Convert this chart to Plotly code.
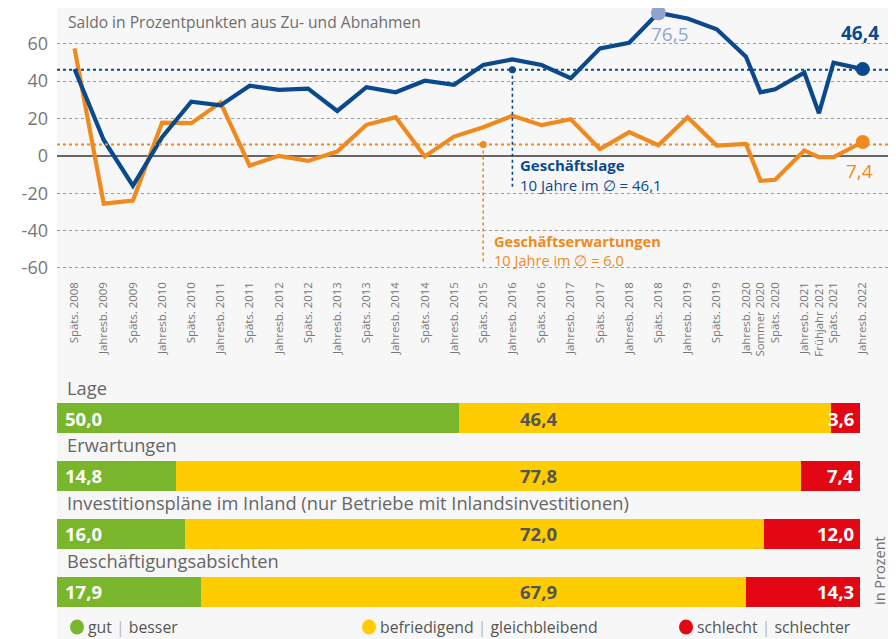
import plotly.graph_objects as go

# Zeitachse (Umfragen)
labels = ["Späts. 2008", "Jahresb. 2009", "Späts. 2009", "Jahresb. 2010", "Späts. 2010",
          "Jahresb. 2011", "Späts. 2011", "Jahresb. 2012", "Späts. 2012", "Jahresb. 2013",
          "Späts. 2013", "Jahresb. 2014", "Späts. 2014", "Jahresb. 2015", "Späts. 2015",
          "Jahresb. 2016", "Späts. 2016", "Jahresb. 2017", "Späts. 2017", "Jahresb. 2018",
          "Späts. 2018", "Jahresb. 2019", "Späts. 2019", "Jahresb. 2020", "Sommer 2020",
          "Späts. 2020", "Jahresb. 2021", "Frühjahr 2021", "Späts. 2021", "Jahresb. 2022"]
survey_pos = [0, 1, 2, 3, 4, 5, 6, 7, 8, 9, 10, 11, 12, 13, 14, 15, 16, 17, 18, 19,
              20, 21, 22, 23, 23.5, 24, 25, 25.5, 26, 27]

lage = [46.5, 8.5, -16.0, 10.0, 29.0, 27.0, 37.5, 35.3, 36.0, 24.0,
        36.7, 34.0, 40.2, 38.0, 48.6, 51.6, 48.6, 41.5, 57.5, 60.5,
        76.5, 73.5, 67.7, 53.0, 34.0, 35.6, 44.5, 22.8, 49.8, 46.4]
erwartungen = [57.5, -25.6, -23.9, 17.8, 17.5, 28.5, -5.2, 0.0, -2.7, 2.3,
               16.6, 20.7, -0.3, 10.3, 15.3, 21.4, 16.4, 19.6, 3.6, 12.7,
               5.7, 20.7, 5.5, 6.4, -13.4, -12.8, 2.8, -0.7, -0.7, 7.4]

avg_lage = 46.1
avg_erw = 6.0

y_ticks = [-60, -40, -20, 0, 20, 40, 60]
y_ticktext = ["-60", "-40", "-20", "0", "20", "40", "60"]

# Balken (in Prozent)
bar_cats = ["Lage", "Erwartungen",
            "Investitionspläne im Inland (nur Betriebe mit Inlandsinvestitionen)",
            "Beschäftigungsabsichten"]
gut = [50.0, 14.8, 16.0, 17.9]
befriedigend = [46.4, 77.8, 72.0, 67.9]
schlecht = [3.6, 7.4, 12.0, 14.3]

legend_items = ["gut <span style='color:#b5b5b5'>|</span> besser",
                "befriedigend <span style='color:#b5b5b5'>|</span> gleichbleibend",
                "schlecht <span style='color:#b5b5b5'>|</span> schlechter"]

BLUE = "#0a4a8c"
ORANGE = "#f08a1e"
LIGHTBLUE = "#8fa5d0"
GREEN = "#79b62b"
YELLOW = "#ffcc00"
RED = "#e30613"
GRAY = "#6e6e6e"
FONT = "Open Sans"

# the page body has an 8px margin, so the figure is drawn 8px smaller
# and every screen position is shifted by 8px
OFF = 8
W, H = 896 - OFF, 639 - OFF


def px(x):
    return (x - OFF) / W


def py(y):
    return min(1, 1 - (y - OFF) / H)


def fmt(v):
    return f"{v:.1f}".replace(".", ",")


fig = go.Figure()

# Linien
fig.add_trace(go.Scatter(x=survey_pos, y=erwartungen, mode="lines",
                         line=dict(color=ORANGE, width=4.2), xaxis="x", yaxis="y"))
fig.add_trace(go.Scatter(x=survey_pos, y=lage, mode="lines",
                         line=dict(color=BLUE, width=4.2), xaxis="x", yaxis="y"))

imax = lage.index(max(lage))
fig.add_trace(go.Scatter(x=[survey_pos[imax]], y=[lage[imax]], mode="markers", cliponaxis=False,
                         marker=dict(color=LIGHTBLUE, size=15), xaxis="x", yaxis="y"))
fig.add_trace(go.Scatter(x=[survey_pos[-1]], y=[lage[-1]], mode="markers", cliponaxis=False,
                         marker=dict(color=BLUE, size=14), xaxis="x", yaxis="y"))
fig.add_trace(go.Scatter(x=[survey_pos[-1]], y=[erwartungen[-1]], mode="markers", cliponaxis=False,
                         marker=dict(color=ORANGE, size=14), xaxis="x", yaxis="y"))
fig.add_trace(go.Scatter(x=[survey_pos[15], survey_pos[14]], y=[avg_lage, avg_erw], mode="markers",
                         marker=dict(color=[BLUE, ORANGE], size=7), xaxis="x", yaxis="y"))

# Balken
for vals, col in [(gut, GREEN), (befriedigend, YELLOW), (schlecht, RED)]:
    fig.add_trace(go.Bar(y=bar_cats, x=vals, orientation="h", marker=dict(color=col, line=dict(width=0)),
                         width=0.52, xaxis="x2", yaxis="y2"))

shapes = [
    dict(type="rect", xref="paper", yref="paper", x0=px(57), x1=px(889), y0=0, y1=1,
         fillcolor="#f7f7f7", line=dict(width=0), layer="below"),
    dict(type="line", xref="x domain", yref="y", x0=0, x1=1, y0=avg_lage, y1=avg_lage,
         line=dict(color=BLUE, width=2, dash="dot")),
    dict(type="line", xref="x domain", yref="y", x0=0, x1=1, y0=avg_erw, y1=avg_erw,
         line=dict(color=ORANGE, width=2, dash="dot")),
    dict(type="line", xref="x", yref="y", x0=survey_pos[15], x1=survey_pos[15], y0=avg_lage, y1=-18,
         line=dict(color=BLUE, width=1.6, dash="dot")),
    dict(type="line", xref="x", yref="y", x0=survey_pos[14], x1=survey_pos[14], y0=avg_erw, y1=-58,
         line=dict(color=ORANGE, width=1.6, dash="dot")),
]

annotations = [
    dict(text="Saldo in Prozentpunkten aus Zu- und Abnahmen", xref="paper", yref="paper",
         x=px(66), y=py(22), xanchor="left", yanchor="middle", showarrow=False,
         font=dict(size=15.6, color=GRAY, family=FONT)),
    dict(text=fmt(lage[imax]), xref="x", yref="y", x=survey_pos[imax], y=lage[imax],
         xanchor="left", yanchor="top", xshift=-9, yshift=-6, showarrow=False,
         font=dict(size=19, color=LIGHTBLUE, family=FONT)),
    dict(text="<b>" + fmt(lage[-1]) + "</b>", xref="x", yref="y", x=survey_pos[-1], y=lage[-1],
         xanchor="center", yanchor="middle", xshift=-3, yshift=36, showarrow=False,
         font=dict(size=19, color=BLUE, family=FONT)),
    dict(text=fmt(erwartungen[-1]), xref="x", yref="y", x=survey_pos[-1], y=erwartungen[-1],
         xanchor="center", yanchor="middle", xshift=-3, yshift=-29, showarrow=False,
         font=dict(size=19, color=ORANGE, family=FONT)),
    dict(text="<b>Geschäftslage</b><br>10 Jahre im ∅ = " + fmt(avg_lage), xref="x", yref="y",
         x=survey_pos[15], y=-10.4, xanchor="left", yanchor="middle", align="left", xshift=6,
         showarrow=False, font=dict(size=15, color=BLUE, family=FONT)),
    dict(text="<b>Geschäftserwartungen</b><br>10 Jahre im ∅ = " + fmt(avg_erw), xref="x", yref="y",
         x=survey_pos[14], y=-50.7, xanchor="left", yanchor="middle", align="left", xshift=9,
         showarrow=False, font=dict(size=14.6, color=ORANGE, family=FONT)),
    dict(text="in Prozent", xref="paper", yref="paper", x=px(879), y=py(571), textangle=-90,
         xanchor="center", yanchor="middle", showarrow=False,
         font=dict(size=14.5, color=GRAY, family=FONT)),
]

for i, cat in enumerate(bar_cats):
    annotations.append(dict(text=cat, xref="x2", yref="y2", x=0, y=cat, xanchor="left", yanchor="middle",
                            xshift=8, yshift=31, showarrow=False,
                            font=dict(size=18.3, color="#666666", family=FONT)))
    annotations.append(dict(text="<b>" + fmt(gut[i]) + "</b>", xref="x2", yref="y2", x=0, y=cat,
                            xanchor="left", yanchor="middle", xshift=6, showarrow=False,
                            font=dict(size=18.5, color="white", family=FONT)))
    annotations.append(dict(text="<b>" + fmt(befriedigend[i]) + "</b>", xref="x2", yref="y2", x=60, y=cat,
                            xanchor="center", yanchor="middle", showarrow=False,
                            font=dict(size=18.5, color="#555555", family=FONT)))
    annotations.append(dict(text="<b>" + fmt(schlecht[i]) + "</b>", xref="x2", yref="y2", x=100, y=cat,
                            xanchor="right", yanchor="middle", xshift=-4, showarrow=False,
                            font=dict(size=18.5, color="white", family=FONT)))

# Legende
legend_dots = [(77, GREEN), (369, YELLOW), (686, RED)]
for (cx, col), txt in zip(legend_dots, legend_items):
    shapes.append(dict(type="circle", xref="paper", yref="paper", x0=px(cx - 7), x1=px(cx + 7),
                       y0=py(627 + 7.5), y1=py(627 - 7.5), fillcolor=col, line=dict(width=0)))
    annotations.append(dict(text=txt, xref="paper", yref="paper", x=px(cx + 9), y=py(627),
                            xanchor="left", yanchor="middle", showarrow=False,
                            font=dict(size=15.8, color="#555555", family=FONT)))

fig.update_layout(
    width=W,
    height=H,
    margin=dict(l=0, r=0, t=0, b=0),
    paper_bgcolor="white",
    plot_bgcolor="rgba(0,0,0,0)",
    showlegend=False,
    barmode="stack",
    font=dict(family=FONT, color=GRAY),
    shapes=shapes,
    annotations=annotations,
    xaxis=dict(
        domain=[px(57), px(889)],
        range=[-0.6, 27.9],
        tickvals=survey_pos,
        ticktext=labels,
        tickangle=-90,
        tickfont=dict(size=11.4, color="#777777", family=FONT),
        showgrid=False,
        zeroline=False,
        showline=False,
        ticks="",
    ),
    yaxis=dict(
        domain=[py(279), 1],
        range=[-65.9, 79.1],
        tickvals=y_ticks,
        ticktext=y_ticktext,
        tickfont=dict(size=18, color="#777777", family=FONT),
        showgrid=True,
        gridcolor="#9a9a9a",
        gridwidth=1,
        griddash="dot",
        zeroline=True,
        zerolinecolor="#666666",
        zerolinewidth=1.5,
        ticks="",
        ticklabelstandoff=8,
    ),
    xaxis2=dict(domain=[px(57), px(860)], range=[0, 100], visible=False, anchor="y2"),
    yaxis2=dict(domain=[0, py(380)], range=[3.82, -0.657], type="category",
                categoryorder="array", categoryarray=bar_cats, visible=False, anchor="x2"),
)

fig.write_html("out.html")
